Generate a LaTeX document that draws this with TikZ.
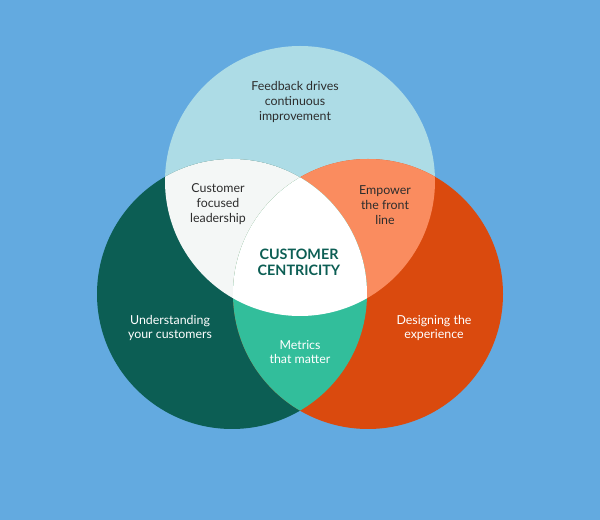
\documentclass[tikz,border=0pt]{standalone}
\usepackage{fontspec}
\setmainfont{Lato}
\setsansfont{Lato}
\usetikzlibrary{positioning}

\definecolor{skyback}{RGB}{99,170,224}
\definecolor{feedbackblue}{RGB}{173,220,230}
\definecolor{understandgreen}{RGB}{12,94,84}
\definecolor{designorange}{RGB}{218,74,14}
\definecolor{leadwhite}{RGB}{244,247,246}
\definecolor{empowersalmon}{RGB}{250,140,95}
\definecolor{metricsteal}{RGB}{50,190,155}
\definecolor{textgray}{RGB}{45,45,45}

\begin{document}
\begin{tikzpicture}[x=0.025cm, y=0.025cm, font=\sffamily\fontsize{8.8}{10.6}\selectfont,
    darktext/.style={align=center, text=textgray},
    lighttext/.style={align=center, text=white},
    titletext/.style={align=center, text=understandgreen, font=\sffamily\bfseries\fontsize{10.2}{11.6}\selectfont}]
    \fill[skyback] (0,0) rectangle (600,520);
    \useasboundingbox (0,0) rectangle (600,520);
    \coordinate (c_top) at (300,339);
    \coordinate (c_left) at (232,226);
    \coordinate (c_right) at (368,226);
    % the three circles
    \fill[feedbackblue] (c_top) circle[radius=135];
    \fill[understandgreen] (c_left) circle[radius=135];
    \fill[designorange] (c_right) circle[radius=135];
    % overlaps
    \begin{scope}
        \clip (c_top) circle[radius=135];
        \fill[leadwhite] (c_left) circle[radius=135];
        \fill[empowersalmon] (c_right) circle[radius=135];
    \end{scope}
    \begin{scope}
        \clip (c_left) circle[radius=135];
        \fill[metricsteal] (c_right) circle[radius=135];
        \clip (c_right) circle[radius=135];
        \fill[white] (c_top) circle[radius=135];
    \end{scope}
    % labels
    \node[darktext] (feedback) at (295,418) {Feedback drives\\continuous\\improvement};
    \node[darktext] (leadership) at (218,316) {Customer\\focused\\leadership};
    \node[darktext] (empower) at (385,315) {Empower\\the front\\line};
    \node[titletext] (centricity) at (299,258) {CUSTOMER\\CENTRICITY};
    \node[lighttext] (understand) at (170,192) {Understanding\\your customers};
    \node[lighttext] (metrics) at (300,168) {Metrics\\that matter};
    \node[lighttext] (design) at (434,192) {Designing the\\experience};
\end{tikzpicture}
\end{document}
